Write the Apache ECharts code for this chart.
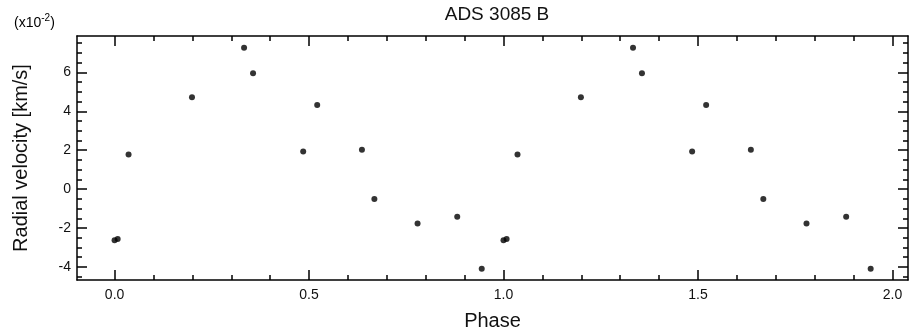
<!DOCTYPE html>
<html>
<head>
<meta charset="utf-8">
<script src="https://cdn.jsdelivr.net/npm/echarts@6/dist/echarts.min.js"></script>
<style>html,body{margin:0;padding:0;background:#fff}#c{width:912px;height:334px}</style>
</head>
<body>
<div id="c"></div>
<script>
// Data (velocity in units of 1e-2 km/s)
var phase = [0.000, 0.008, 0.036, 0.199, 0.333, 0.356, 0.485, 0.521, 0.636, 0.668, 0.779, 0.881, 0.944,
             1.000, 1.008, 1.036, 1.199, 1.333, 1.356, 1.485, 1.521, 1.636, 1.668, 1.779, 1.881, 1.944];
var velocity = [-2.63, -2.56, 1.78, 4.72, 7.27, 5.95, 1.93, 4.32, 2.02, -0.51, -1.76, -1.42, -4.09,
                -2.63, -2.56, 1.78, 4.72, 7.27, 5.95, 1.93, 4.32, 2.02, -0.51, -1.76, -1.42, -4.09];
var xMajorTicks = [0, 0.5, 1.0, 1.5, 2.0];
var xMinorTicks = [0.1, 0.2, 0.3, 0.4, 0.6, 0.7, 0.8, 0.9, 1.1, 1.2, 1.3, 1.4, 1.6, 1.7, 1.8, 1.9];
var yMajorTicks = [-4, -2, 0, 2, 4, 6];
var yMinorTicks = [-4.5, -3.5, -3, -2.5, -1.5, -1, -0.5, 0.5, 1, 1.5, 2.5, 3, 3.5, 4.5, 5, 5.5, 6.5, 7, 7.5];
var xRange = [-0.0966, 2.04];
var yRange = [-4.67, 7.87];

var points = phase.map(function (p, i) { return [p, velocity[i]]; });
var FONT = '"Liberation Sans", Arial, sans-serif';
var lineStyle = { color: '#000', width: 1.5 };

function xAx(pos, major, showLine, label) {
  return {
    type: 'value', position: pos, min: xRange[0], max: xRange[1],
    axisLine: { show: showLine, onZero: false, lineStyle: lineStyle },
    axisTick: { show: true, inside: true, length: major ? 10 : 5, customValues: major ? xMajorTicks : xMinorTicks, lineStyle: lineStyle },
    axisLabel: label ? { show: true, customValues: xMajorTicks, formatter: function (v) { return v.toFixed(1); },
      fontFamily: FONT, fontSize: 14, color: '#111', margin: 8 } : { show: false },
    splitLine: { show: false },
    name: label ? 'Phase' : '', nameLocation: 'middle', nameGap: 31,
    nameTextStyle: { fontFamily: FONT, fontSize: 20, color: '#111' }
  };
}
function yAx(pos, major, showLine, label) {
  return {
    type: 'value', position: pos, min: yRange[0], max: yRange[1],
    axisLine: { show: showLine, onZero: false, lineStyle: lineStyle },
    axisTick: { show: true, inside: true, length: major ? 10 : 5, customValues: major ? yMajorTicks : yMinorTicks, lineStyle: lineStyle },
    axisLabel: label ? { show: true, customValues: yMajorTicks, formatter: function (v) { return String(v); },
      fontFamily: FONT, fontSize: 14, color: '#111', margin: 6 } : { show: false },
    splitLine: { show: false },
    name: label ? 'Radial velocity [km/s]' : '', nameLocation: 'middle', nameGap: 46,
    nameTextStyle: { fontFamily: FONT, fontSize: 20, color: '#111' }
  };
}

var chart = echarts.init(document.getElementById('c'), null, { renderer: 'canvas' });
chart.setOption({
  animation: false,
  backgroundColor: '#fff',
  title: { text: 'ADS 3085 B', left: 492, top: 0, textAlign: 'center',
    textStyle: { fontFamily: FONT, fontSize: 19, fontWeight: 'normal', color: '#111' } },
  grid: { left: 77, right: 4, top: 36, bottom: 54, containLabel: false, outerBoundsMode: 'none' },
  xAxis: [xAx('bottom', true, true, true), xAx('bottom', false, false, false),
          xAx('top', true, true, false), xAx('top', false, false, false)],
  yAxis: [yAx('left', true, true, true), yAx('left', false, false, false),
          yAx('right', true, true, false), yAx('right', false, false, false)],
  graphic: [{
    type: 'text', left: 14, top: 13,
    style: { text: '{a|(x10}{b|-2}{a|)}', rich: {
      a: { fontFamily: FONT, fontSize: 14, color: '#222', verticalAlign: 'bottom', lineHeight: 17 },
      b: { fontFamily: FONT, fontSize: 10, color: '#222', verticalAlign: 'top', lineHeight: 17, padding: [0, 0, 7, 0] }
    } }
  }],
  series: [{
    type: 'scatter', xAxisIndex: 0, yAxisIndex: 0, data: points,
    symbol: 'circle', symbolSize: 6, itemStyle: { color: '#000' }, silent: true
  }]
});
</script>
</body>
</html>
